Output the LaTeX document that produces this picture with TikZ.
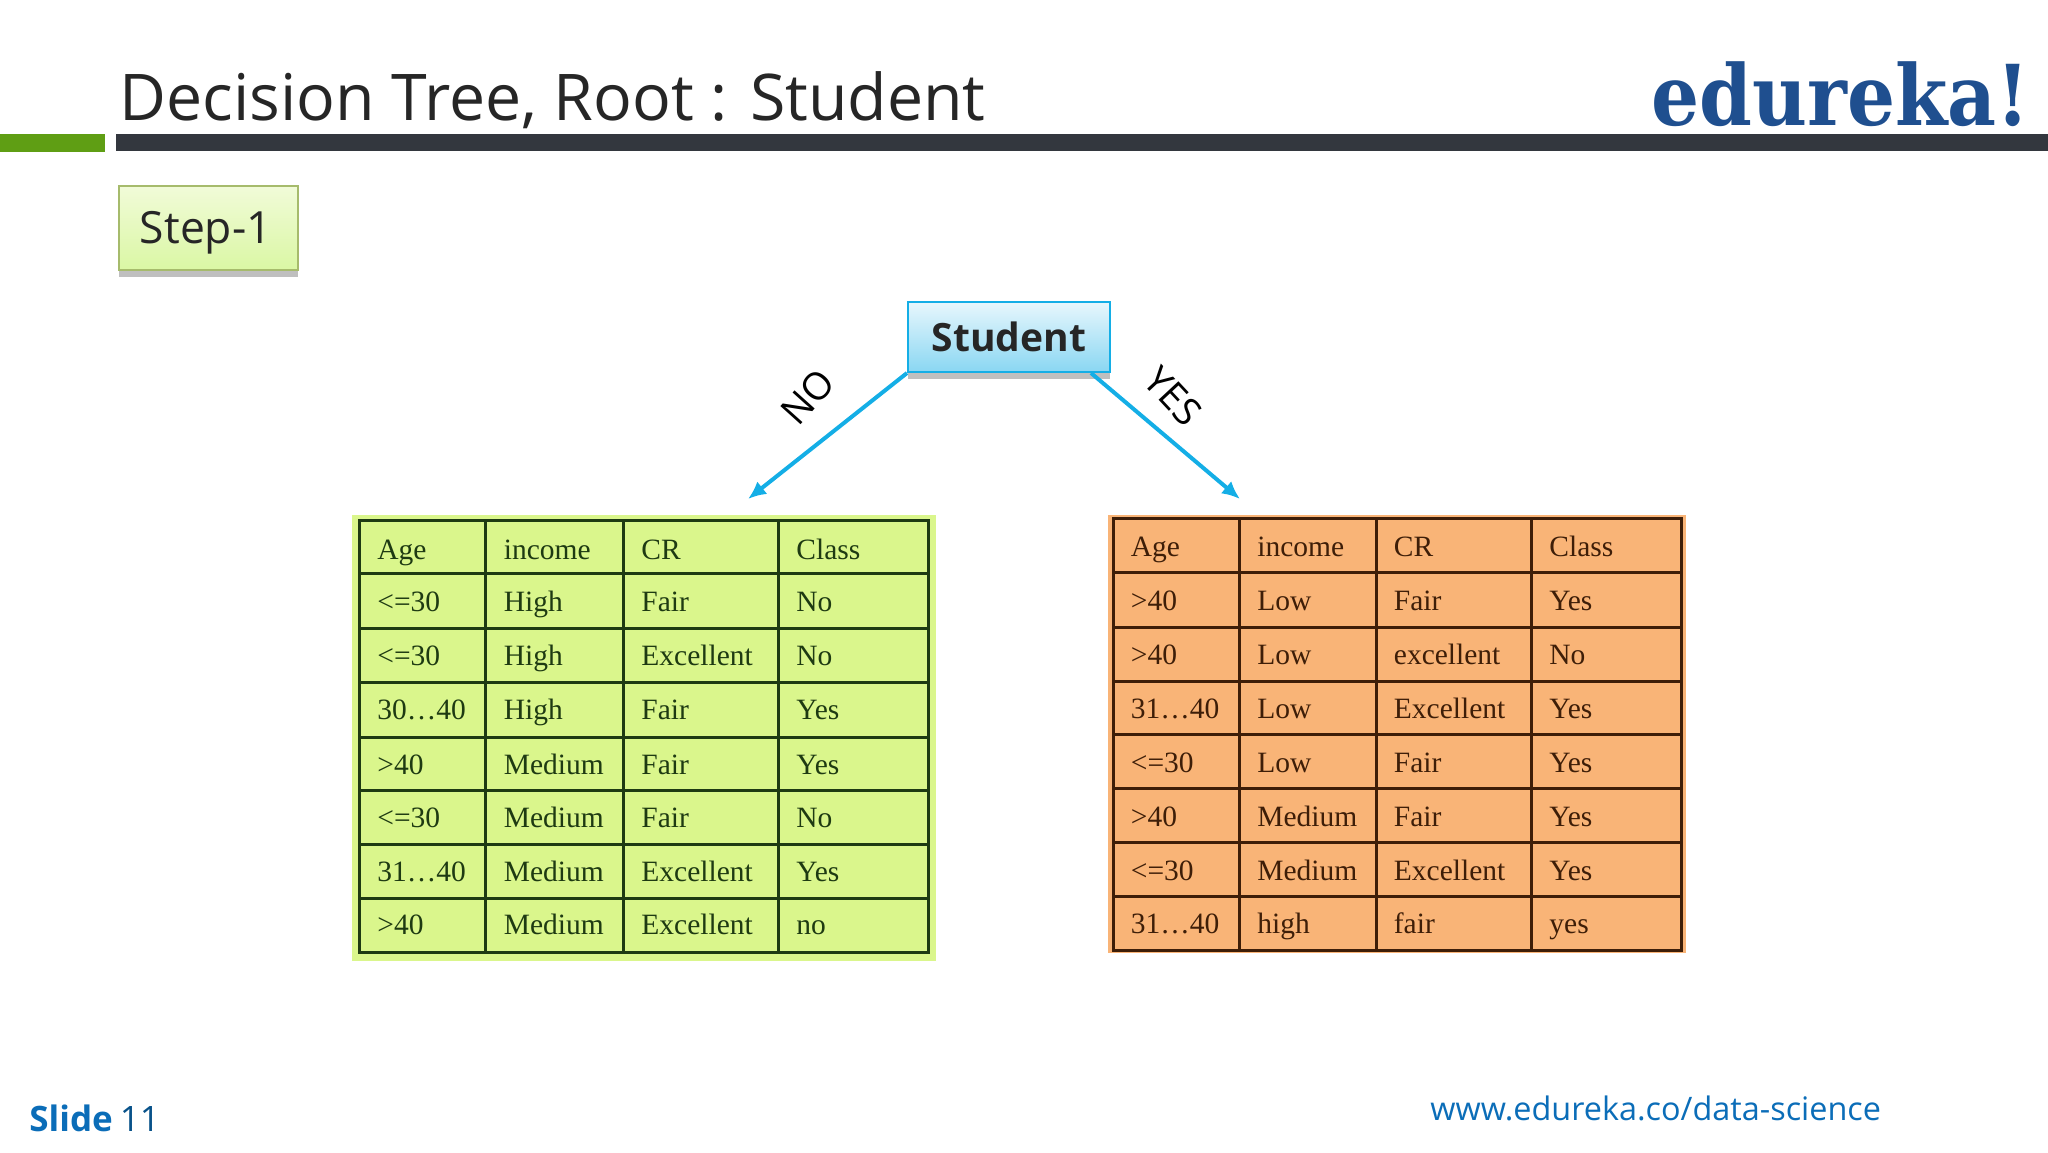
\documentclass[tikz,border=0pt]{standalone}
\usepackage{fontspec}
\setmainfont{Open Sans}
\newfontfamily\tablefont{Liberation Serif}
\newfontfamily\logofont[FakeStretch=0.9]{DejaVu Serif}
\usetikzlibrary{positioning, shadows, arrows.meta}
\definecolor{barDark}{HTML}{33373E}
\definecolor{barGreen}{HTML}{5F9E14}
\definecolor{arrowBlue}{HTML}{14AEE6}
\definecolor{footBlue}{HTML}{0B6DB8}
\definecolor{logoBlue}{HTML}{1F4F8F}
\definecolor{stepLine}{HTML}{A6BB6C}
\definecolor{stepTop}{HTML}{F1FBD8}
\definecolor{stepBottom}{HTML}{DAF7A4}
\definecolor{noFill}{HTML}{DAF68C}
\definecolor{noLine}{HTML}{1E3A12}
\definecolor{yesFill}{HTML}{F9B477}
\definecolor{yesLine}{HTML}{3E1E08}
\tikzset{
  stepbox/.style={draw=stepLine, line width=1pt, top color=stepTop, bottom color=stepBottom, minimum width=89.5pt, minimum height=42pt, inner sep=0pt, text height=15.4pt, text depth=0pt, font=\fontsize{22.2}{23}\selectfont, text=black!85, drop shadow={shadow xshift=0pt, shadow yshift=-3.5pt, opacity=.5}},
  rootbox/.style={draw=arrowBlue, line width=1pt, top color=arrowBlue!10, bottom color=arrowBlue!50, minimum width=101pt, minimum height=35pt, inner sep=0pt, font=\fontsize{19.5}{20}\selectfont\bfseries, text=black!85, drop shadow={shadow xshift=0pt, shadow yshift=-3.5pt, opacity=.5}},
  branch/.style={draw=arrowBlue, line width=2pt, -{Latex[length=9pt, width=8pt]}},
  branchlabel/.style={font=\fontsize{19}{20}\selectfont, inner sep=0pt},
  cell/.style={anchor=base west, inner sep=0pt, font=\tablefont\fontsize{14.75}{15}\selectfont},
  nocell/.style={cell, text=noLine},
  yescell/.style={cell, text=yesLine}
}
\begin{document}
\begin{tikzpicture}[x=0.5pt, y=-0.5pt]
  \useasboundingbox (0,0) rectangle (2048,1152);
  % header
  \fill[barGreen] (0,134) rectangle (105,152);
  \fill[barDark] (116,134) rectangle (2048,151);
  \node[anchor=base west, inner sep=0pt, font=\fontsize{32.2}{33}\selectfont, text=black!85] (title) at (119,120) {Decision Tree, Root : Student};
  \node[anchor=base west, inner sep=0pt, font=\logofont\bfseries\fontsize{42}{42}\selectfont, text=logoBlue] (logo) at (1651,125) {edureka!};
  \node[stepbox, anchor=north west] (stepone) at (118,185) {Step-1\hspace{2.6pt}\null};
  % root and branches
  \node[rootbox, anchor=north west] (student) at (907,301) {Student};
  \coordinate (noend) at (748,499);
  \coordinate (yesend) at (1240,499);
  \draw[branch] (student.south west) -- (noend);
  \draw[branch] ([xshift=-10pt]student.south east) -- (yesend);
  \node[branchlabel, rotate=48] (nolabel) at (808,397) {NO};
  \node[branchlabel, rotate=-47] (yeslabel) at (1173,396) {YES};
  % left table
  \fill[noFill] (352,515) rectangle (936,961);
  \draw[noLine, line width=1.5pt] (359,520) rectangle (928,952);
  \foreach \y in {573,628,682,737,790,844,898} \draw[noLine, line width=1.5pt] (359,\y) -- (928,\y);
  \foreach \x in {485.5,623,778} \draw[noLine, line width=1.5pt] (\x,520) -- (\x,952);
  \foreach \r/\yb/\ca/\cb/\cc/\cd in {
    1/559/Age/income/CR/Class,
    2/611/<=30/High/Fair/No,
    3/665/<=30/High/Excellent/No,
    4/719/30…40/High/Fair/Yes,
    5/774/>40/Medium/Fair/Yes,
    6/827/<=30/Medium/Fair/No,
    7/881/31…40/Medium/Excellent/Yes,
    8/934/>40/Medium/Excellent/no} {
    \node[nocell] (nor\r a) at (377,\yb) {\ca};
    \node[nocell] (nor\r b) at (503.5,\yb) {\cb};
    \node[nocell] (nor\r c) at (641,\yb) {\cc};
    \node[nocell] (nor\r d) at (796,\yb) {\cd};
  }
  % right table
  \fill[yesFill] (1108,515) rectangle (1685.5,953);
  \draw[yesLine, line width=1.5pt] (1113,518) rectangle (1681,950);
  \foreach \y in {572,627,681,734,788,842,896} \draw[yesLine, line width=1.5pt] (1113,\y) -- (1681,\y);
  \foreach \x in {1239.5,1376,1531} \draw[yesLine, line width=1.5pt] (\x,518) -- (\x,950);
  \foreach \r/\yb/\ca/\cb/\cc/\cd in {
    1/556/Age/income/CR/Class,
    2/610/>40/Low/Fair/Yes,
    3/664/>40/Low/excellent/No,
    4/718/31…40/Low/Excellent/Yes,
    5/772/<=30/Low/Fair/Yes,
    6/826/>40/Medium/Fair/Yes,
    7/880/<=30/Medium/Excellent/Yes,
    8/933/31…40/high/fair/yes} {
    \node[yescell] (yesr\r a) at (1130.5,\yb) {\ca};
    \node[yescell] (yesr\r b) at (1257,\yb) {\cb};
    \node[yescell] (yesr\r c) at (1393.5,\yb) {\cc};
    \node[yescell] (yesr\r d) at (1549,\yb) {\cd};
  }
  % footer
  \node[anchor=base west, inner sep=0pt, font=\fontsize{17.5}{18}\selectfont, text=footBlue] (slide) at (29,1131) {\textbf{Slide}\hspace{3.5pt}{\color{footBlue!75!black}11}};
  \node[anchor=base west, inner sep=0pt, font=\fontsize{16.2}{17}\selectfont, text=footBlue] (site) at (1430,1120) {www.edureka.co/data-science};
\end{tikzpicture}
\end{document}
